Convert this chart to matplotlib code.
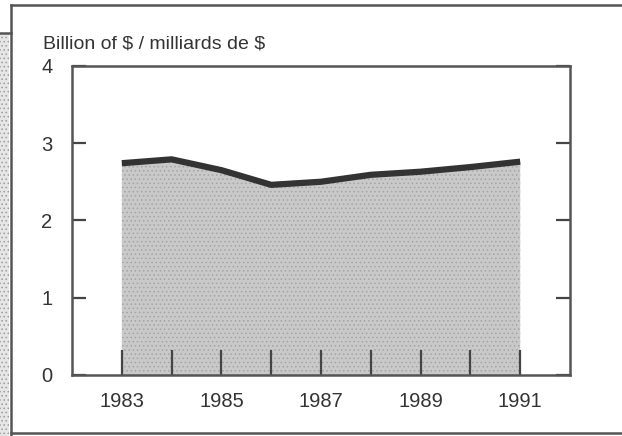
import matplotlib.pyplot as plt
from matplotlib.lines import Line2D
from matplotlib.patches import Rectangle


# -----------------------------
# Data
# -----------------------------

years = [1983, 1984, 1985, 1986, 1987, 1988, 1989, 1990, 1991]

values = [2.74, 2.79, 2.65, 2.46, 2.50, 2.59, 2.63, 2.69, 2.76]

label_years = [1983, 1985, 1987, 1989, 1991]

y_labels = [0, 1, 2, 3, 4]

title = "Billion of $ / milliards de $"


plt.rcParams["font.family"] = ["Liberation Sans", "DejaVu Sans"]
plt.rcParams["hatch.linewidth"] = 0.6


fig = plt.figure(figsize=(6.22, 4.36), dpi=100)

ax = fig.add_axes([0.1158, 0.140, 0.8006, 0.709])


# area + thick top line
ax.fill_between(
    years,
    values,
    0,
    facecolor="#c9c9c9",
    edgecolor="#a4a4a4",
    hatch="....",
    linewidth=0,
    zorder=1
)

ax.plot(
    years,
    values,
    color="#333333",
    linewidth=4.5,
    solid_capstyle="butt",
    zorder=3
)


ax.set_xlim(1982, 1992)
ax.set_ylim(0, 4)


# x ticks: every year, inward, labels on odd years
ax.set_xticks(years)
ax.set_xticklabels(
    [str(y) if y in label_years else "" for y in years]
)

ax.tick_params(
    axis="x",
    direction="in",
    length=18,
    width=1.6,
    color="#444444",
    pad=12,
    labelsize=14.5,
    labelcolor="#333333"
)


# y ticks on both sides
ax.set_yticks(y_labels)
ax.set_yticklabels([str(v) for v in y_labels])

ax.tick_params(
    axis="y",
    direction="in",
    length=10,
    width=1.6,
    color="#444444",
    pad=14,
    labelsize=14.5,
    labelcolor="#333333",
    right=True
)

for spine in ax.spines.values():
    spine.set_color("#555555")
    spine.set_linewidth(1.8)


fig.text(
    0.069,
    0.898,
    title,
    fontsize=14,
    color="#333333",
    ha="left",
    va="center",
    parse_math=False
)


# -----------------------------
# Page frame around the chart
# -----------------------------

fig.add_artist(
    Rectangle(
        (0, 0),
        0.015,
        0.925,
        transform=fig.transFigure,
        facecolor="#e6e6e6",
        edgecolor="#9a9a9a",
        hatch="....",
        linewidth=0
    )
)

frame = dict(color="#555555", linewidth=1.8, transform=fig.transFigure)

fig.add_artist(Line2D([0.017, 1.0], [0.988, 0.988], **frame))
fig.add_artist(Line2D([0.017, 0.017], [0.0, 0.988], **frame))
fig.add_artist(Line2D([0.017, 1.0], [0.007, 0.007], **frame))
fig.add_artist(Line2D([0.0, 0.017], [0.925, 0.925], **frame))


plt.savefig("out.png", dpi=100)

plt.close()
